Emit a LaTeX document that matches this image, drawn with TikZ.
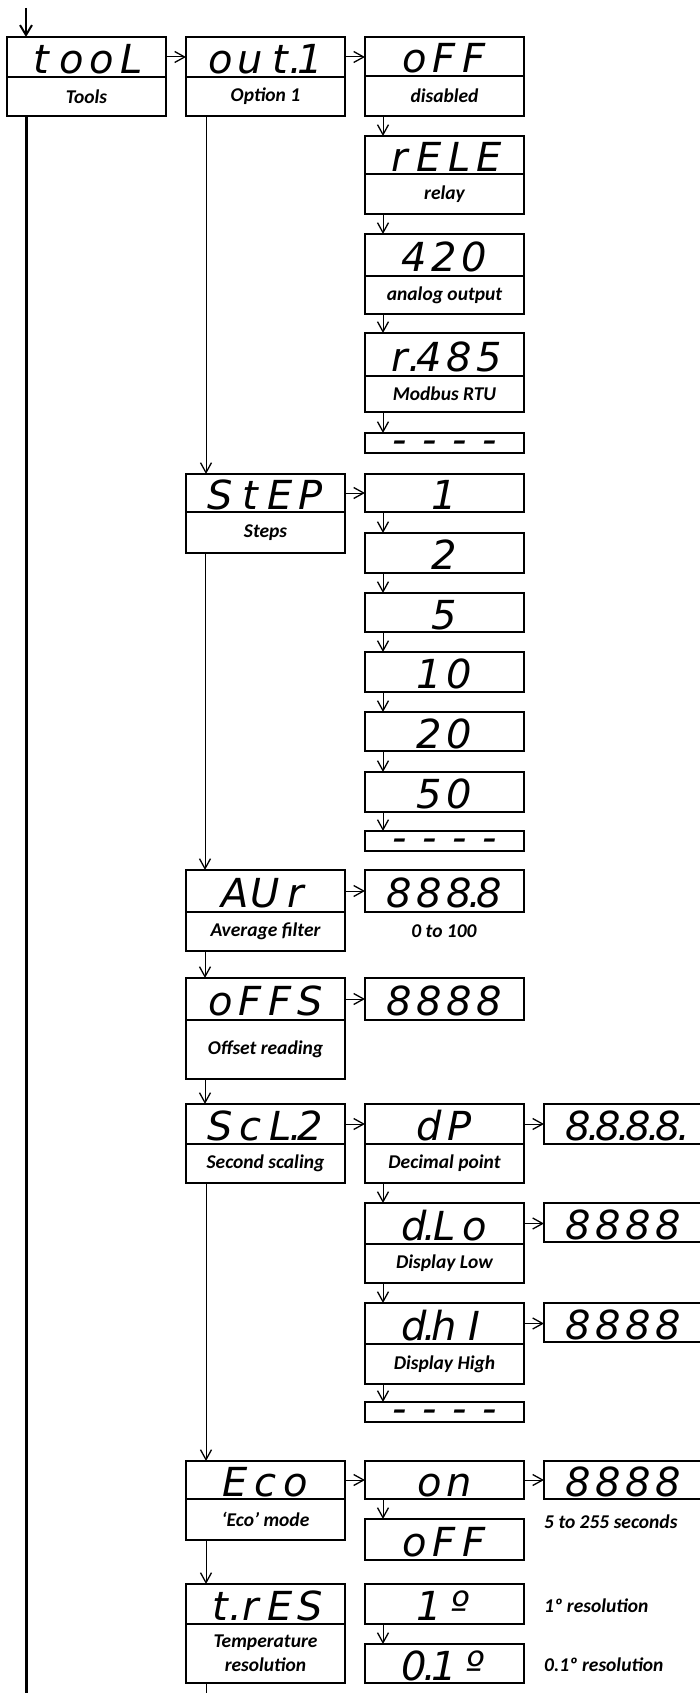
\documentclass[tikz,border=0pt]{standalone}
\usepackage{fontspec}
\setmainfont{Carlito}
\newfontfamily\segfamily{DejaVu Sans}
\usetikzlibrary{arrows.meta}
\newcommand\capfont{\bfseries\itshape\fontsize{19.5}{24}\selectfont}
\makeatletter
\newcommand\segs[1]{{\segfamily\itshape\fontsize{40}{40}\selectfont\@tfor\sg@c:=#1\do{\if.\sg@c\makebox[0pt]{.}\else\makebox[30pt]{\sg@c}\fi}}}
\makeatother
\newcommand\segdash{\raisebox{-10.8pt}[0pt][0pt]{\segs{----}}}
\begin{document}
\begin{tikzpicture}[x=1pt,y=-1pt,
  box/.style={draw, line width=1.1pt, inner sep=0pt, outer sep=0pt, anchor=north west, minimum width=159pt},
  disp/.style={box, minimum height=#1, text height=33pt, text depth=0pt},
  disp/.default=40pt,
  cap/.style={box, minimum height=#1, align=center, font=\capfont},
  dashbox/.style={box, minimum height=20pt},
  note/.style={font=\capfont, inner sep=0pt},
  arr/.style={line width=1pt, -{Straight Barb[length=10pt,width=11pt,line width=1.3pt]}},
  trunk/.style={line width=3pt},
  entry/.style={line width=2.2pt, -{Straight Barb[length=10pt,width=12pt,line width=2pt]}}]
\useasboundingbox (0,0) rectangle (700,1693);

% column A
\node[disp] (tool) at (7,37) {\segs{tooL}};
\node[cap=39pt] (toolc) at (tool.south west) {Tools};

% column B
\node[disp] (out1) at (186,37) {\segs{out.1}};
\node[cap=39pt] (out1c) at (out1.south west) {Option 1};
\node[disp=38pt] (step) at (186,474) {\segs{StEP}};
\node[cap=41pt] (stepc) at (step.south west) {Steps};
\node[disp=42pt] (aur) at (186,870) {\segs{AUr}};
\node[cap=39pt] (aurc) at (aur.south west) {Average filter};
\node[disp=42pt] (offs) at (186,978) {\segs{oFFS}};
\node[cap=59pt] (offsc) at (offs.south west) {Offset reading};
\node[disp] (scl) at (186,1104) {\segs{ScL.2}};
\node[cap=39pt] (sclc) at (scl.south west) {Second scaling};
\node[disp=38pt] (eco) at (186,1461) {\segs{Eco}};
\node[cap=41pt] (ecoc) at (eco.south west) {‘Eco’ mode};
\node[disp] (tres) at (186,1584) {\segs{t.rES}};
\node[cap=59pt] (tresc) at (tres.south west) {Temperature\\resolution};

% column C : out.1 options
\node[disp=39pt] (off) at (365,37) {\segs{oFF}};
\node[cap=40pt] (offc) at (off.south west) {disabled};
\node[disp=38pt] (rele) at (365,136) {\segs{rELE}};
\node[cap=40pt] (relec) at (rele.south west) {relay};
\node[disp=42pt] (a420) at (365,234) {\segs{420}};
\node[cap=38pt] (a420c) at (a420.south west) {analog output};
\node[disp=43pt] (r485) at (365,333) {\segs{r.485}};
\node[cap=36pt] (r485c) at (r485.south west) {Modbus RTU};
\node[dashbox] (dash1) at (365,433) {\segdash};

% column C : steps
\node[disp=38pt] (s1) at (365,474) {\segs{1}};
\node[disp=40pt] (s2) at (365,533) {\segs{2}};
\node[disp=39pt] (s5) at (365,593) {\segs{5}};
\node[disp=40pt] (s10) at (365,652) {\segs{10}};
\node[disp=39pt] (s20) at (365,712) {\segs{20}};
\node[disp=40pt] (s50) at (365,772) {\segs{50}};
\node[dashbox] (dash2) at (365,831) {\segdash};

% column C : filter, offset
\node[disp=42pt] (aurv) at (365,870) {\segs{888.8}};
\node[note] (aurn) at (444,931) {0 to 100};
\node[disp=42pt] (offsv) at (365,978) {\segs{8888}};

% column C : second scaling
\node[disp] (dp) at (365,1104) {\segs{dP}};
\node[cap=39pt] (dpc) at (dp.south west) {Decimal point};
\node[disp=41pt] (dlo) at (365,1203) {\segs{d.Lo}};
\node[cap=39pt] (dloc) at (dlo.south west) {Display Low};
\node[disp=41pt] (dhi) at (365,1303) {\segs{d.hI}};
\node[cap=40pt] (dhic) at (dhi.south west) {Display High};
\node[dashbox] (dash3) at (365,1402) {\segdash};

% column D
\node[disp=40pt] (dpv) at (544,1104) {\segs{8.8.8.8.}};
\node[disp=39pt] (dlov) at (544,1203) {\segs{8888}};
\node[disp=39pt] (dhiv) at (544,1303) {\segs{8888}};

% eco
\node[disp=38pt] (on) at (365,1461) {\segs{on}};
\node[disp=41pt] (off2) at (365,1519) {\segs{oFF}};
\node[disp=38pt] (onv) at (544,1461) {\segs{8888}};
\node[note, anchor=west] (onn) at (544,1522) {5 to 255 seconds};

% temperature resolution
\node[disp=40pt] (r1) at (365,1584) {\segs{1º}};
\node[disp=39pt] (r01) at (365,1644) {\segs{0.1º}};
\node[note, anchor=west] (r1n) at (544,1606) {1º resolution};
\node[note, anchor=west] (r01n) at (544,1665) {0.1º resolution};

% entry and trunk
\coordinate (start) at (26,8);
\coordinate (endA) at (26,1693);
\coordinate (endB) at (206,1693);
\draw[entry] (start) -- ([xshift=19pt]tool.north west);
\draw[trunk] ([xshift=19pt]toolc.south west) -- (endA);

% horizontal arrows
\draw[arr] (tool.east) -- (out1.west);
\draw[arr] (out1.east) -- (out1.east -| off.west);
\draw[arr] (step.east) -- (step.east -| s1.west);
\draw[arr] (aur.east) -- (aurv.west);
\draw[arr] (offs.east) -- (offsv.west);
\draw[arr] (scl.east) -- (dp.west);
\draw[arr] (dp.east) -- (dp.east -| dpv.west);
\draw[arr] (dlo.east) -- (dlo.east -| dlov.west);
\draw[arr] (dhi.east) -- (dhi.east -| dhiv.west);
\draw[arr] (eco.east) -- (eco.east -| on.west);
\draw[arr] (on.east) -- (on.east -| onv.west);

% column B vertical arrows
\draw[arr] ([xshift=20pt]out1c.south west) -- ([xshift=20pt]step.north west);
\draw[arr] ([xshift=19pt]stepc.south west) -- ([xshift=19pt]aur.north west);
\draw[arr] ([xshift=19pt]aurc.south west) -- ([xshift=19pt]offs.north west);
\draw[arr] ([xshift=19pt]offsc.south west) -- ([xshift=19pt]scl.north west);
\draw[arr] ([xshift=20pt]sclc.south west) -- ([xshift=20pt]eco.north west);
\draw[arr] ([xshift=20pt]ecoc.south west) -- ([xshift=20pt]tres.north west);
\draw[line width=1pt] ([xshift=20pt]tresc.south west) -- (endB);

% column C vertical arrows
\foreach \a/\b in {offc/rele, relec/a420, a420c/r485, r485c/dash1,
                   s1/s2, s2/s5, s5/s10, s10/s20, s20/s50, s50/dash2,
                   dpc/dlo, dloc/dhi, dhic/dash3, on/off2, r1/r01}
  \draw[arr] ([xshift=18pt]\a.south west) -- ([xshift=18pt]\b.north west);
\end{tikzpicture}
\end{document}
